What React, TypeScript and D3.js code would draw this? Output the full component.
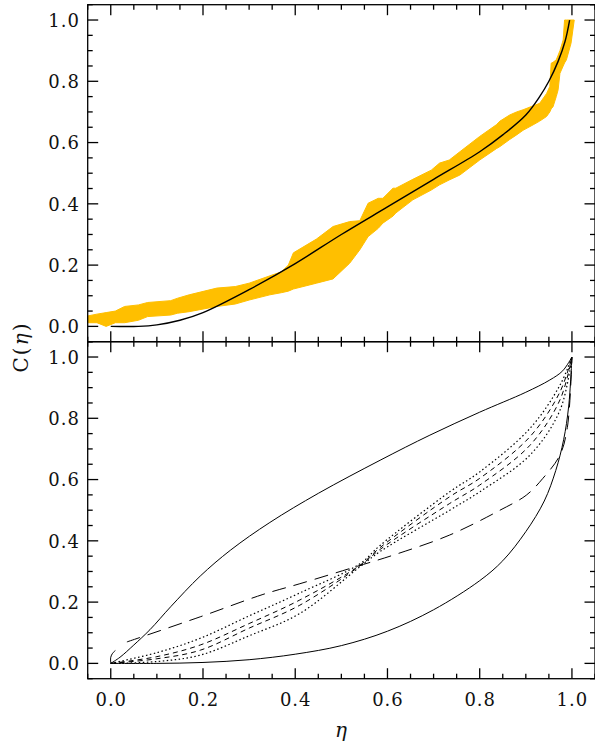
import React from "react";
import * as d3 from "d3";

// ---------- data ----------
const tickValues = [0, 0.2, 0.4, 0.6, 0.8, 1.0];
const tickLabels = ["0.0", "0.2", "0.4", "0.6", "0.8", "1.0"];

// top panel: band of empirical curves (eta, lower C, upper C)
const bandEta = [-0.05, -0.03, -0.01, 0.01, 0.03, 0.06, 0.08, 0.13, 0.145, 0.17, 0.23, 0.27, 0.3, 0.345, 0.37, 0.385, 0.396, 0.446, 0.482, 0.518, 0.54, 0.558, 0.58, 0.59, 0.612, 0.618, 0.655, 0.695, 0.713, 0.734, 0.757, 0.8, 0.836, 0.844, 0.865, 0.88, 0.894, 0.916, 0.93, 0.945, 0.952, 0.955, 0.959, 0.966, 0.97, 0.974, 0.981, 0.984, 0.988, 0.998, 1.005];
const bandLow = [0.012, 0.012, 0.0, 0.012, 0.012, 0.02, 0.032, 0.037, 0.043, 0.048, 0.065, 0.073, 0.086, 0.103, 0.11, 0.115, 0.122, 0.141, 0.155, 0.206, 0.25, 0.293, 0.32, 0.337, 0.36, 0.37, 0.413, 0.445, 0.462, 0.478, 0.494, 0.543, 0.58, 0.587, 0.61, 0.625, 0.64, 0.658, 0.67, 0.685, 0.7, 0.71, 0.717, 0.75, 0.772, 0.826, 0.85, 0.86, 0.87, 0.924, 1.0];
const bandHigh = [0.034, 0.04, 0.045, 0.05, 0.065, 0.07, 0.078, 0.084, 0.092, 0.103, 0.125, 0.13, 0.141, 0.165, 0.178, 0.2, 0.24, 0.285, 0.326, 0.342, 0.345, 0.402, 0.418, 0.418, 0.451, 0.451, 0.48, 0.51, 0.533, 0.543, 0.57, 0.62, 0.658, 0.67, 0.69, 0.7, 0.707, 0.72, 0.728, 0.76, 0.783, 0.859, 0.862, 0.87, 0.885, 0.9, 0.935, 1.0, 1.0, 1.0, 1.0];

// top panel: model curve
const modelEta = [0, 0.06, 0.1, 0.15, 0.2, 0.3, 0.4, 0.5, 0.6, 0.7, 0.8, 0.85, 0.9, 0.93, 0.95, 0.97, 0.985, 0.995];
const modelC = [0, 0, 0.005, 0.02, 0.045, 0.12, 0.205, 0.3, 0.39, 0.48, 0.57, 0.625, 0.69, 0.75, 0.8, 0.865, 0.93, 1.0];

// bottom panel curves
const upperEta = [0, 0.02, 0.05, 0.085, 0.13, 0.194, 0.26, 0.345, 0.45, 0.584, 0.692, 0.8, 0.9, 0.952, 0.98, 1.0];
const upperC = [0, 0.02, 0.06, 0.11, 0.185, 0.285, 0.37, 0.46, 0.555, 0.663, 0.745, 0.82, 0.885, 0.925, 0.955, 1.0];

const lowerEta = [0, 0.1, 0.2, 0.3, 0.4, 0.5, 0.6, 0.7, 0.8, 0.85, 0.9, 0.94, 0.965, 0.982, 0.993, 1.0];
const lowerC = [0, 0, 0.003, 0.012, 0.03, 0.058, 0.105, 0.175, 0.27, 0.335, 0.43, 0.53, 0.63, 0.73, 0.84, 1.0];

const longDashEta = [0.035, 0.194, 0.33, 0.41, 0.53, 0.612, 0.735, 0.844, 0.901, 0.937, 0.974, 0.99, 1.0];
const longDashC = [0.07, 0.152, 0.225, 0.26, 0.315, 0.353, 0.419, 0.5, 0.549, 0.604, 0.68, 0.77, 1.0];

const midEta = [0, 0.1, 0.194, 0.3, 0.41, 0.54, 0.584, 0.735, 0.8, 0.909, 0.974, 1.0];
const dottedA = [0, 0.035, 0.082, 0.155, 0.23, 0.325, 0.385, 0.56, 0.625, 0.767, 0.908, 1.0];
const dashedB = [0, 0.022, 0.06, 0.13, 0.207, 0.32, 0.378, 0.544, 0.604, 0.74, 0.886, 1.0];
const dashedC = [0, 0.015, 0.043, 0.115, 0.19, 0.318, 0.372, 0.522, 0.582, 0.712, 0.86, 1.0];
const dottedD = [0, 0.006, 0.027, 0.09, 0.163, 0.315, 0.365, 0.5, 0.56, 0.68, 0.826, 1.0];

const hookEta = [0, 0.0, 0.004, 0.01];
const hookC = [0, 0.02, 0.033, 0.042];

// ---------- layout ----------
const W = 595;
const H = 748;
const x = d3.scaleLinear().domain([-0.05, 1.05]).range([87.7, 595]);
const yTop = d3.scaleLinear().domain([-0.05, 1.05]).range([341.7, 4.7]);
const yBot = d3.scaleLinear().domain([-0.05, 1.05]).range([678.7, 341.7]);

const minorTicks = d3
  .range(-1, 22)
  .map((i) => i * 0.05)
  .filter((v) => v > -0.05 - 1e-9 && v < 1.05 + 1e-9 && Math.abs(v / 0.2 - Math.round(v / 0.2)) > 1e-6);

const FONT = "'DejaVu Serif', serif";

function Panel({ y, showXBottom }: { y: d3.ScaleLinear<number, number>; showXBottom: boolean }) {
  const [x0, x1] = x.range();
  const [yb, yt] = y.range();
  const MAJ = 10.5;
  const MIN = 5;
  const sw = 1.3;
  const lines: any[] = [];
  tickValues.forEach((v, i) => {
    const px = x(v);
    const py = y(v);
    lines.push(<line key={"xb" + i} x1={px} x2={px} y1={yb} y2={yb - MAJ} />);
    lines.push(<line key={"xt" + i} x1={px} x2={px} y1={yt} y2={yt + MAJ} />);
    lines.push(<line key={"yl" + i} x1={x0} x2={x0 + MAJ} y1={py} y2={py} />);
    lines.push(<line key={"yr" + i} x1={x1} x2={x1 - MAJ} y1={py} y2={py} />);
  });
  minorTicks.forEach((v, i) => {
    const px = x(v);
    const py = y(v);
    lines.push(<line key={"mxb" + i} x1={px} x2={px} y1={yb} y2={yb - MIN} />);
    lines.push(<line key={"mxt" + i} x1={px} x2={px} y1={yt} y2={yt + MIN} />);
    lines.push(<line key={"myl" + i} x1={x0} x2={x0 + MIN} y1={py} y2={py} />);
    lines.push(<line key={"myr" + i} x1={x1} x2={x1 - MIN} y1={py} y2={py} />);
  });
  return (
    <g>
      <g stroke="#000" strokeWidth={sw}>{lines}</g>
      <rect x={x0} y={yt} width={x1 - x0} height={yb - yt} fill="none" stroke="#000" strokeWidth={sw} />
      <g fontFamily={FONT} fontSize={18} fill="#111" letterSpacing={1}>
        {tickValues.map((v, i) => (
          <text key={"yl" + i} x={80} y={y(v) + 6.7} textAnchor="end">
            {tickLabels[i]}
          </text>
        ))}
      </g>
      {showXBottom && (
        <g fontFamily={FONT} fontSize={18} fill="#111" letterSpacing={1}>
          {tickValues.map((v, i) => (
            <text key={"xl" + i} x={x(v) + 0.5} y={yb + 27.3} textAnchor="middle">
              {tickLabels[i]}
            </text>
          ))}
        </g>
      )}
    </g>
  );
}

export default function App() {
  const area = d3
    .area<number>()
    .x((_, i) => x(bandEta[i]))
    .y0((_, i) => yTop(bandLow[i]))
    .y1((_, i) => yTop(bandHigh[i]))
    .curve(d3.curveLinear);

  const mkLine = (xs: number[], ys: number[], y: d3.ScaleLinear<number, number>) =>
    d3
      .line<number>()
      .x((_, i) => x(xs[i]))
      .y((_, i) => y(ys[i]))
      .curve(d3.curveCatmullRom.alpha(0.5))(ys) as string;

  return (
    <svg width={W} height={H} style={{ position: "absolute", left: 0, top: 0, display: "block", background: "#fff" }}>
      <rect x={0} y={0} width={W} height={H} fill="#fff" />
      {/* top panel */}
      <path d={area(bandLow) as string} fill="#FFBF00" stroke="#FFBF00" strokeWidth={1} />
      <path d={mkLine(modelEta, modelC, yTop)} fill="none" stroke="#000" strokeWidth={1.4} />
      <Panel y={yTop} showXBottom={false} />

      {/* bottom panel */}
      <g fill="none" stroke="#000">
        <path d={mkLine(upperEta, upperC, yBot)} strokeWidth={1} />
        <path d={mkLine(lowerEta, lowerC, yBot)} strokeWidth={1} />
        <path d={mkLine(hookEta, hookC, yBot)} strokeWidth={1} />
        <path d={mkLine(longDashEta, longDashC, yBot)} strokeWidth={1} strokeDasharray="14,8" />
        <path d={mkLine(midEta, dottedA, yBot)} strokeWidth={1.2} strokeDasharray="1.5,2.5" />
        <path d={mkLine(midEta, dashedB, yBot)} strokeWidth={1} strokeDasharray="5,4" />
        <path d={mkLine(midEta, dashedC, yBot)} strokeWidth={1} strokeDasharray="5,4" />
        <path d={mkLine(midEta, dottedD, yBot)} strokeWidth={1.2} strokeDasharray="1.5,2.5" />
      </g>
      <Panel y={yBot} showXBottom={true} />

      {/* axis titles */}
      <text
        transform={`translate(28,347) rotate(-90)`}
        textAnchor="middle"
        fontFamily={FONT}
        fontSize={20}
        fill="#111"
        letterSpacing={2}
      >
        C(<tspan fontStyle="italic">η</tspan>)
      </text>
      <text x={341} y={737} textAnchor="middle" fontFamily={FONT} fontSize={20} fontStyle="italic" fill="#111">
        η
      </text>
    </svg>
  );
}
